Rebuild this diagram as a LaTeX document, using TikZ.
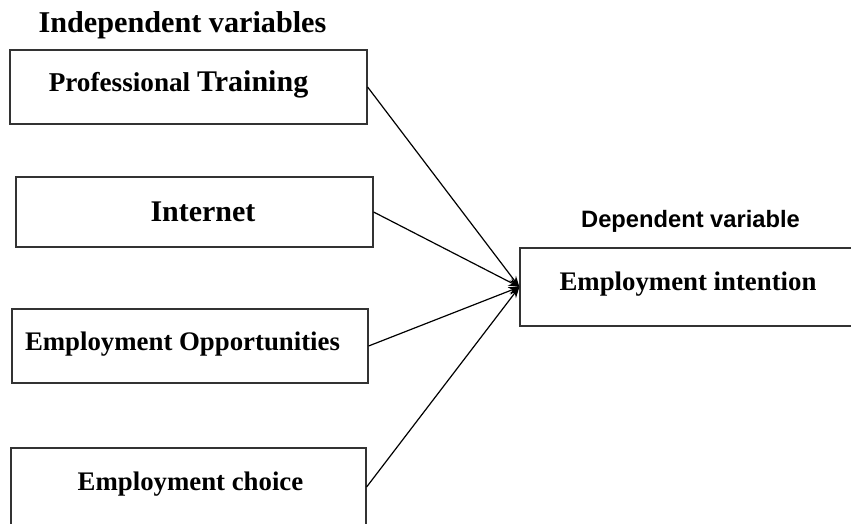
\documentclass[tikz,border=0pt]{standalone}
\usepackage{fontspec}
\setmainfont{Liberation Serif}
\newfontfamily\headsans{Liberation Sans}
\usetikzlibrary{arrows.meta}
\tikzset{
  varbox/.style={draw=black!80,line width=1.2pt,inner sep=0pt},
  vartext/.style={anchor=base,inner sep=0pt,font=\bfseries\fontsize{26.8}{30}\selectfont},
  link/.style={line width=1.2pt,-{Stealth[length=11pt,width=8pt]}}
}
\begin{document}
\begin{tikzpicture}[x=1pt,y=-1pt]
\clip (0,0) rectangle (851,524);
% headings
\node[vartext,font=\bfseries\fontsize{30.2}{34}\selectfont] (indep) at (182.5,33) {Independent variables};
\node[vartext,font=\headsans\bfseries\fontsize{23.7}{27}\selectfont] (dep) at (690.5,227) {Dependent variable};
% boxes on the left
\node[varbox,minimum width=357pt,minimum height=74pt] (train) at (188.5,87) {};
\node[varbox,minimum width=357pt,minimum height=70pt] (inet) at (194.5,212) {};
\node[varbox,minimum width=356pt,minimum height=74pt] (opps) at (190,346) {};
\node[varbox,minimum width=355pt,minimum height=78pt] (choice) at (188.5,487) {};
% box on the right
\node[varbox,minimum width=360pt,minimum height=78pt] (intent) at (700,287) {};
% texts
\node[vartext,font=\bfseries\fontsize{27.2}{30}\selectfont] (traintext) at (178.5,92) {Professional {\fontsize{30}{33}\selectfont Training}};
\node[vartext,font=\bfseries\fontsize{30}{34}\selectfont] (inettext) at (203,221) {Internet};
\node[vartext] (oppstext) at (182.5,350) {Employment Opportunities};
\node[vartext] (choicetext) at (190.5,490) {Employment choice};
\node[vartext] (intenttext) at (688,290) {Employment intention};
% links
\foreach \src in {train,inet,opps,choice}
  \draw[link] (\src.east) -- (intent.west);
\end{tikzpicture}
\end{document}
